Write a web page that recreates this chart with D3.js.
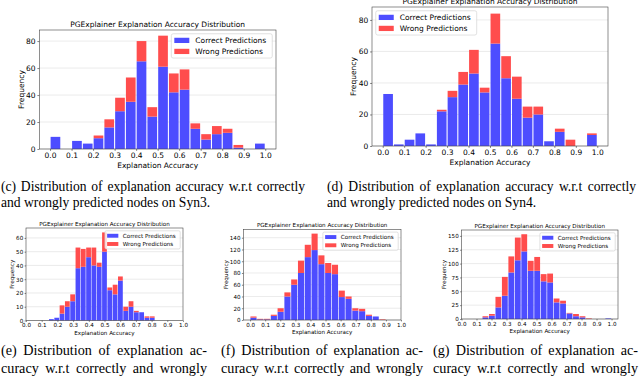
<!DOCTYPE html>
<html lang="en">
<head>
<meta charset="UTF-8">
<title>PGExplainer Explanation Accuracy Distribution</title>
<script src="https://d3js.org/d3.v7.min.js"></script>
<style>
  body { margin: 0; background: #fff; overflow: hidden; }
  svg text { font-family: "DejaVu Sans", sans-serif; fill: #000; }
  svg text.caption { font-family: "Liberation Serif", "Times New Roman", serif; }
</style>
</head>
<body>
<svg id="fig" width="640" height="377"></svg>
<script>
// histogram counts (20 bins each)
const syn3Range = [0, 1];
const syn3Correct = [9, 0, 6, 4, 8, 16, 28, 35, 65, 24, 61, 42, 44, 15, 7, 11, 12, 1, 0, 4];
const syn3Wrong   = [0, 0, 0, 0, 2, 6, 10, 18, 15, 7, 23, 14, 15, 4, 4, 6, 3, 2, 0, 0];

const syn4Range = [0, 1];
const syn4Correct = [33, 1, 4, 8, 1, 22, 31, 39, 46, 34, 65, 43, 30, 18, 20, 3, 9, 0, 0, 7];
const syn4Wrong   = [0, 0, 0, 0, 0, 1, 4, 8, 15, 3, 19, 14, 14, 7, 5, 0, 2, 4, 0, 1];

const panelERange = [0.145, 0.821];
const panelECorrect = [1, 2, 5, 10, 14, 38, 39, 46, 40, 39, 50, 22, 19, 29, 7, 10, 6, 6, 2, 2];
const panelEWrong   = [0, 0, 6, 4, 5, 15, 13, 7, 13, 3, 14, 2, 7, 3, 3, 4, 1, 0, 1, 1];

const panelFRange = [0, 0.9];
const panelFCorrect = [4, 1, 1, 7, 14, 40, 60, 80, 107, 119, 95, 80, 78, 39, 36, 16, 15, 7, 6, 0];
const panelFWrong   = [2, 1, 1, 2, 6, 7, 9, 21, 21, 28, 15, 17, 16, 11, 4, 4, 4, 2, 0, 1];

const panelGRange = [0.138, 1.0];
const panelGCorrect = [3, 6, 21, 42, 84, 106, 122, 87, 87, 68, 66, 30, 28, 10, 5, 3, 0, 0, 0, 1];
const panelGWrong   = [2, 3, 19, 34, 29, 41, 31, 18, 25, 13, 16, 7, 5, 1, 4, 2, 1, 0, 0, 0];

const xTickValues = [0, 0.1, 0.2, 0.3, 0.4, 0.5, 0.6, 0.7, 0.8, 0.9, 1.0];
const syn3YTicks = [0, 20, 40, 60, 80];
const syn4YTicks = [0, 20, 40, 60, 80];
const panelEYTicks = [0, 10, 20, 30, 40, 50, 60];
const panelFYTicks = [0, 20, 40, 60, 80, 100, 120, 140];
const panelGYTicks = [0, 25, 50, 75, 100, 125, 150];

const seriesLabels = ["Correct Predictions", "Wrong Predictions"];
const chartTitle = "PGExplainer Explanation Accuracy Distribution";
const xLabel = "Explanation Accuracy";
const yLabel = "Frequency";

const captionC = ["(c) Distribution of explanation accuracy w.r.t correctly", "and wrongly predicted nodes on Syn3."];
const captionD = ["(d) Distribution of explanation accuracy w.r.t correctly", "and wrongly predicted nodes on Syn4."];
const captionE = ["(e) Distribution of explanation ac-", "curacy w.r.t correctly and wrongly"];
const captionF = ["(f) Distribution of explanation ac-", "curacy w.r.t correctly and wrongly"];
const captionG = ["(g) Distribution of explanation ac-", "curacy w.r.t correctly and wrongly"];

const colors = ["#4d4dff", "#ff4d4d"];

const svg = d3.select("#fig");

// layout of each panel (axes box in px, x limits, font size)
const panels = [
    { range: syn3Range, correct: syn3Correct, wrong: syn3Wrong, yTicks: syn3YTicks,
      box: { l: 39.3, t: 30, r: 276, b: 149 }, xDomain: [-0.05, 1.05], fs: 7.5, tick: 1.9, legend: "right" },
    { range: syn4Range, correct: syn4Correct, wrong: syn4Wrong, yTicks: syn4YTicks,
      box: { l: 372, t: 7, r: 608, b: 146 }, xDomain: [-0.05, 1.05], fs: 7.5, tick: 1.9, legend: "left" },
    { range: panelERange, correct: panelECorrect, wrong: panelEWrong, yTicks: panelEYTicks,
      box: { l: 26, t: 228, r: 183, b: 320.5 }, xDomain: [0, 1], fs: 5.6, tick: 1.4, legend: "right" },
    { range: panelFRange, correct: panelFCorrect, wrong: panelFWrong, yTicks: panelFYTicks,
      box: { l: 243.3, t: 229.3, r: 401, b: 320 }, xDomain: [-0.045, 1.0], fs: 5.6, tick: 1.4, legend: "right" },
    { range: panelGRange, correct: panelGCorrect, wrong: panelGWrong, yTicks: panelGYTicks,
      box: { l: 461.5, t: 230, r: 618, b: 319 }, xDomain: [0, 1.043], fs: 5.6, tick: 1.4, legend: "right" }
];

panels.forEach(drawPanel);

function drawPanel(p) {
    const { l, t, r, b } = p.box;
    const fs = p.fs;
    const n = p.correct.length;
    const binW = (p.range[1] - p.range[0]) / n;
    const totals = p.correct.map((c, i) => c + p.wrong[i]);

    const x = d3.scaleLinear().domain(p.xDomain).range([l, r]);
    const y = d3.scaleLinear().domain([0, d3.max(totals) * 1.05]).range([b, t]);

    const g = svg.append("g");

    // horizontal grid
    g.append("g").selectAll("line")
        .data(p.yTicks)
        .enter().append("line")
        .attr("x1", l).attr("x2", r)
        .attr("y1", d => y(d)).attr("y2", d => y(d))
        .attr("stroke", "#e3e3e3")
        .attr("stroke-width", 0.7);

    const bins = d3.range(n).map(i => ({
        x0: p.range[0] + i * binW,
        c: p.correct[i],
        w: p.wrong[i]
    }));

    const bx = d => x(d.x0 + binW * 0.05);
    const bw = x(binW * 0.9) - x(0);

    g.append("g").selectAll("rect")
        .data(bins.filter(d => d.c > 0))
        .enter().append("rect")
        .attr("x", bx).attr("width", bw)
        .attr("y", d => y(d.c))
        .attr("height", d => y(0) - y(d.c))
        .attr("fill", colors[0]);

    g.append("g").selectAll("rect")
        .data(bins.filter(d => d.w > 0))
        .enter().append("rect")
        .attr("x", bx).attr("width", bw)
        .attr("y", d => y(d.c + d.w))
        .attr("height", d => y(d.c) - y(d.c + d.w))
        .attr("fill", colors[1]);

    // frame
    g.append("rect")
        .attr("x", l).attr("y", t)
        .attr("width", r - l).attr("height", b - t)
        .attr("fill", "none")
        .attr("stroke", "#444")
        .attr("stroke-width", 0.6);

    // axes
    const xAxis = g.append("g")
        .attr("transform", `translate(0,${b})`)
        .call(d3.axisBottom(x).tickValues(xTickValues).tickFormat(d3.format(".1f"))
            .tickSizeInner(p.tick).tickSizeOuter(0).tickPadding(p.tick));
    const yAxis = g.append("g")
        .attr("transform", `translate(${l},0)`)
        .call(d3.axisLeft(y).tickValues(p.yTicks)
            .tickSizeInner(p.tick).tickSizeOuter(0).tickPadding(p.tick));
    [xAxis, yAxis].forEach(a => {
        a.select(".domain").remove();
        a.attr("font-family", null).attr("font-size", null);
        a.selectAll("line").attr("stroke", "#333").attr("stroke-width", 0.6);
        a.selectAll("text").style("font-size", fs + "px").attr("fill", "#000");
    });

    // title and axis labels
    g.append("text")
        .attr("x", (l + r) / 2).attr("y", t - 0.35 * fs)
        .attr("text-anchor", "middle")
        .style("font-size", fs + "px")
        .text(chartTitle);

    g.append("text")
        .attr("x", (l + r) / 2).attr("y", b + 2 * p.tick + fs * 2.0)
        .attr("text-anchor", "middle")
        .style("font-size", fs + "px")
        .text(xLabel);

    let maxTickW = 0;
    yAxis.selectAll("text").each(function () {
        maxTickW = Math.max(maxTickW, this.getComputedTextLength());
    });
    const ylx = l - 2 * p.tick - maxTickW - 0.3 * fs;
    g.append("text")
        .attr("transform", `translate(${ylx},${(t + b) / 2}) rotate(-90)`)
        .attr("text-anchor", "middle")
        .style("font-size", fs + "px")
        .text(yLabel);

    // legend
    const pad = 0.4 * fs, rowH = 0.97 * fs, gap = 0.5 * fs;
    const handleW = 2 * fs, handleH = 0.7 * fs, textPad = 0.8 * fs;
    const lg = g.append("g");
    const box = lg.append("rect");
    const labels = lg.selectAll("text.lbl")
        .data(seriesLabels)
        .enter().append("text")
        .attr("class", "lbl")
        .style("font-size", fs + "px")
        .text(d => d);
    let textW = 0;
    labels.each(function () { textW = Math.max(textW, this.getComputedTextLength()); });
    const boxW = 2 * pad + handleW + textPad + textW + pad;
    const boxH = 2 * pad + 2 * rowH + gap;
    const bx0 = p.legend === "right" ? r - 0.5 * fs - boxW : l + 0.5 * fs;
    const by0 = t + 0.5 * fs;
    box.attr("x", bx0).attr("y", by0)
        .attr("width", boxW).attr("height", boxH)
        .attr("rx", 0.25 * fs)
        .attr("fill", "#fff").attr("fill-opacity", 0.8)
        .attr("stroke", "#ccc").attr("stroke-width", 0.6);
    const rowY = i => by0 + pad + rowH / 2 + i * (rowH + gap);
    lg.selectAll("rect.handle")
        .data(seriesLabels)
        .enter().append("rect")
        .attr("class", "handle")
        .attr("x", bx0 + pad).attr("y", (d, i) => rowY(i) - handleH / 2)
        .attr("width", handleW).attr("height", handleH)
        .attr("fill", (d, i) => colors[i]);
    labels.attr("x", bx0 + pad + handleW + textPad)
        .attr("y", (d, i) => rowY(i))
        .attr("dy", "0.36em");
}

// captions, justified word by word
const captionBlocks = [
    { lines: captionC, x: 1, width: 304, y: [190.5, 207], fs: 13.6, justify: [true, false] },
    { lines: captionD, x: 327, width: 309, y: [190.5, 207], fs: 13.6, justify: [true, false] },
    { lines: captionE, x: 1, width: 206, y: [355, 372.5], fs: 14.2, justify: [true, true] },
    { lines: captionF, x: 221, width: 202, y: [355, 372.5], fs: 14.2, justify: [true, true] },
    { lines: captionG, x: 433, width: 205, y: [355, 372.5], fs: 14.2, justify: [true, true] }
];

captionBlocks.forEach(c => {
    c.lines.forEach((line, li) => {
        const words = line.split(" ");
        const nodes = words.map(w => svg.append("text")
            .attr("class", "caption")
            .attr("y", c.y[li])
            .style("font-size", c.fs + "px")
            .text(w));
        const widths = nodes.map(s => s.node().getComputedTextLength());
        const spaceW = c.fs * 0.25;
        const gapW = c.justify[li]
            ? Math.max(spaceW * 0.6, (c.width - d3.sum(widths)) / (words.length - 1))
            : spaceW;
        let cx = c.x;
        nodes.forEach((s, i) => {
            s.attr("x", cx);
            cx += widths[i] + gapW;
        });
    });
});
</script>
</body>
</html>
